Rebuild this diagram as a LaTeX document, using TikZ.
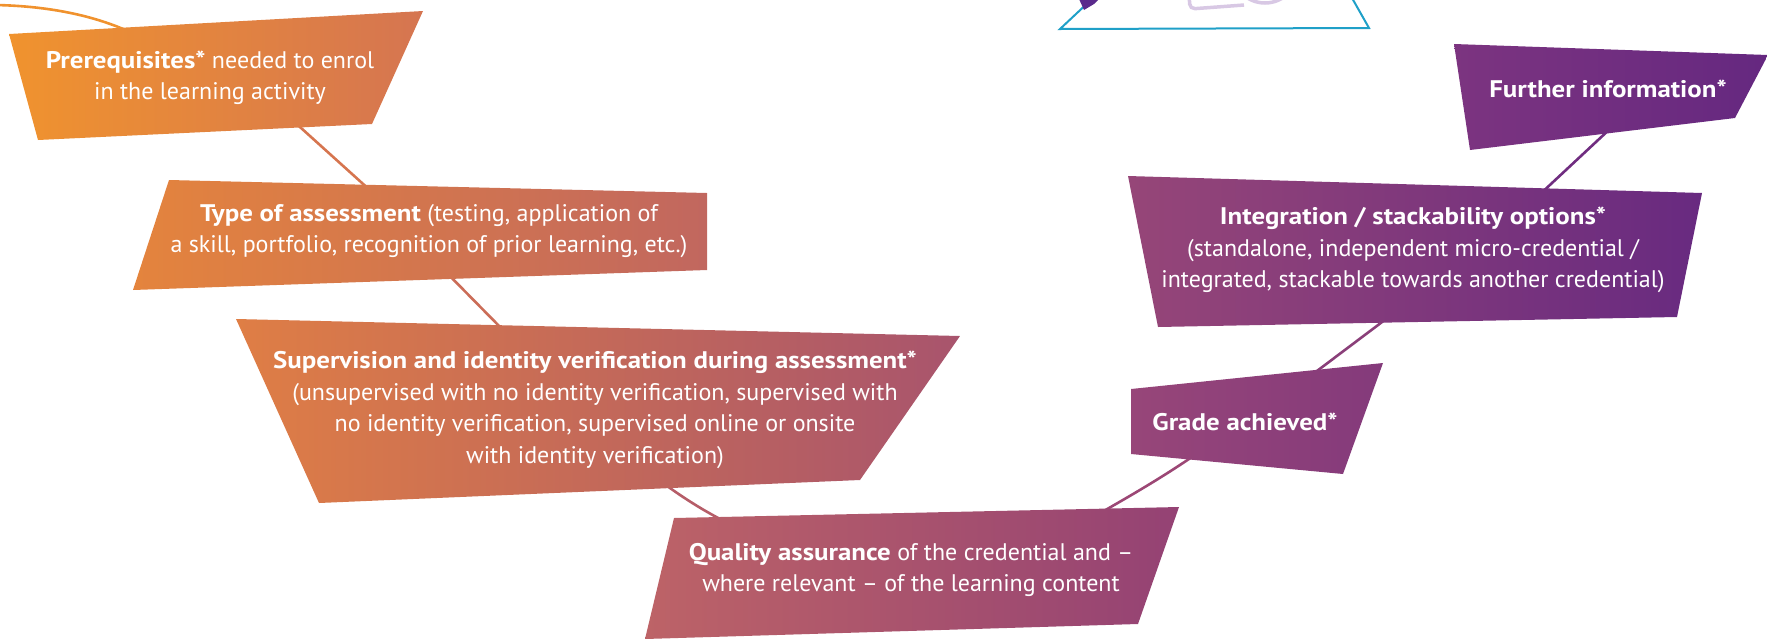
\documentclass[tikz,border=0pt]{standalone}
\usepackage{fontspec}
\setmainfont{PT Sans}[BoldFeatures={FakeStretch=1.12}]
\definecolor{pL}{HTML}{F0932E}\definecolor{pR}{HTML}{D57551}
\definecolor{tL}{HTML}{E4843D}\definecolor{tR}{HTML}{C1675F}
\definecolor{sL}{HTML}{DF7E45}\definecolor{sR}{HTML}{A8546D}
\definecolor{qL}{HTML}{BD6367}\definecolor{qR}{HTML}{944274}
\definecolor{gL}{HTML}{974679}\definecolor{gR}{HTML}{843A7B}
\definecolor{iL}{HTML}{964678}\definecolor{iR}{HTML}{682A80}
\definecolor{fL}{HTML}{7C3480}\definecolor{fR}{HTML}{652880}
\definecolor{lc0}{HTML}{F0922E}\definecolor{lc1}{HTML}{D6754F}
\definecolor{lc2}{HTML}{CB6D58}\definecolor{lc3}{HTML}{B65D68}
\definecolor{lc4}{HTML}{9C4775}\definecolor{lc5}{HTML}{8A3F79}
\definecolor{lc6}{HTML}{702D80}
\definecolor{cyanline}{HTML}{1FA0C8}
\definecolor{darkpur}{HTML}{5A2A8C}
\definecolor{lav}{HTML}{D8C8E4}
\begin{document}
\begin{tikzpicture}[x=1pt,y=-1pt,
  conn/.style={line width=2.6pt},
  txt/.style={text=white, align=center, inner sep=0pt, font=\fontsize{24}{31.5}\selectfont}]
\useasboundingbox (0,0) rectangle (1767,638);
\clip (0,0) rectangle (1767,638);
% top decorations (cut-off)
\draw[cyanline, line width=2pt] (1093,-2) -- (1060,29) -- (1369,28) -- (1352,-2);
\fill[darkpur] (1079,-1) -- (1099,-1) -- (1094,4) -- (1084,10) -- cycle;
\draw[lav, line width=3.5pt, rounded corners=5pt] (1189,-6) -- (1190,9) -- (1244,5);
\draw[lav, line width=3.5pt] (1265,-30) circle[radius=33];
% connector end points
\coordinate (c0a) at (-5,5);
\coordinate (c0b) at (130,32);
\coordinate (c1a) at (290,118);
\coordinate (c1b) at (372,192);
\coordinate (c2a) at (442,268);
\coordinate (c2b) at (506,333);
\coordinate (c3a) at (655,477);
\coordinate (c3b) at (732,525);
\coordinate (c4a) at (1095,516);
\coordinate (c4b) at (1202,450);
\coordinate (c5a) at (1305,380);
\coordinate (c5b) at (1394,313);
\coordinate (c6a) at (1537,197);
\coordinate (c6b) at (1612,127);
% connectors
\draw[conn, lc0] (c0a) .. controls (50,6) and (95,16) .. (c0b);
\draw[conn, lc1] (c1a) -- (c1b);
\draw[conn, lc2] (c2a) -- (c2b);
\draw[conn, lc3] (c3a) .. controls (680,496) and (705,512) .. (c3b);
\draw[conn, lc4] (c4a) .. controls (1130,496) and (1165,476) .. (c4b);
\draw[conn, lc5] (c5a) -- (c5b);
\draw[conn, lc6] (c6a) -- (c6b);
% boxes
\shade[left color=pL, right color=pR] (9,34) -- (423,11) -- (372,124) -- (38,140) -- cycle;
\shade[left color=tL, right color=tR] (169,180) -- (707,193) -- (707,270) -- (133,290) -- cycle;
\shade[left color=sL, right color=sR] (236,319) -- (960,336) -- (860,480) -- (319,503) -- cycle;
\shade[left color=qL, right color=qR] (674,518) -- (1179,507) -- (1138,624) -- (645,639) -- cycle;
\shade[left color=gL, right color=gR] (1131,389) -- (1383,363) -- (1343,474) -- (1131,454) -- cycle;
\shade[left color=iL, right color=iR] (1128,176) -- (1702,193) -- (1677,317) -- (1158,327) -- cycle;
\shade[left color=fL, right color=fR] (1454,44) -- (1768,55) -- (1735,118) -- (1470,150) -- cycle;
% texts
\node[txt] (prereq) at (210,78) {\textbf{Prerequisites*} needed to enrol\\in the learning activity};
\node[txt] (type) at (429,231) {\textbf{Type of assessment} (testing, application of\\a skill, portfolio, recognition of prior learning, etc.)};
\node[txt] (superv) at (595,410) {\textbf{Supervision and identity verification during assessment*}\\(unsupervised with no identity verification, supervised with\\no identity verification, supervised online or onsite\\with identity verification)};
\node[txt] (quality) at (911,570) {\textbf{Quality assurance} of the credential and --\\where relevant -- of the learning content};
\node[txt] (grade) at (1245,422) {\textbf{Grade achieved*}};
\node[txt] (integ) at (1413,250) {\textbf{Integration / stackability options*}\\(standalone, independent micro-credential /\\integrated, stackable towards another credential)};
\node[txt] (further) at (1608,89) {\textbf{Further information*}};
\end{tikzpicture}
\end{document}
